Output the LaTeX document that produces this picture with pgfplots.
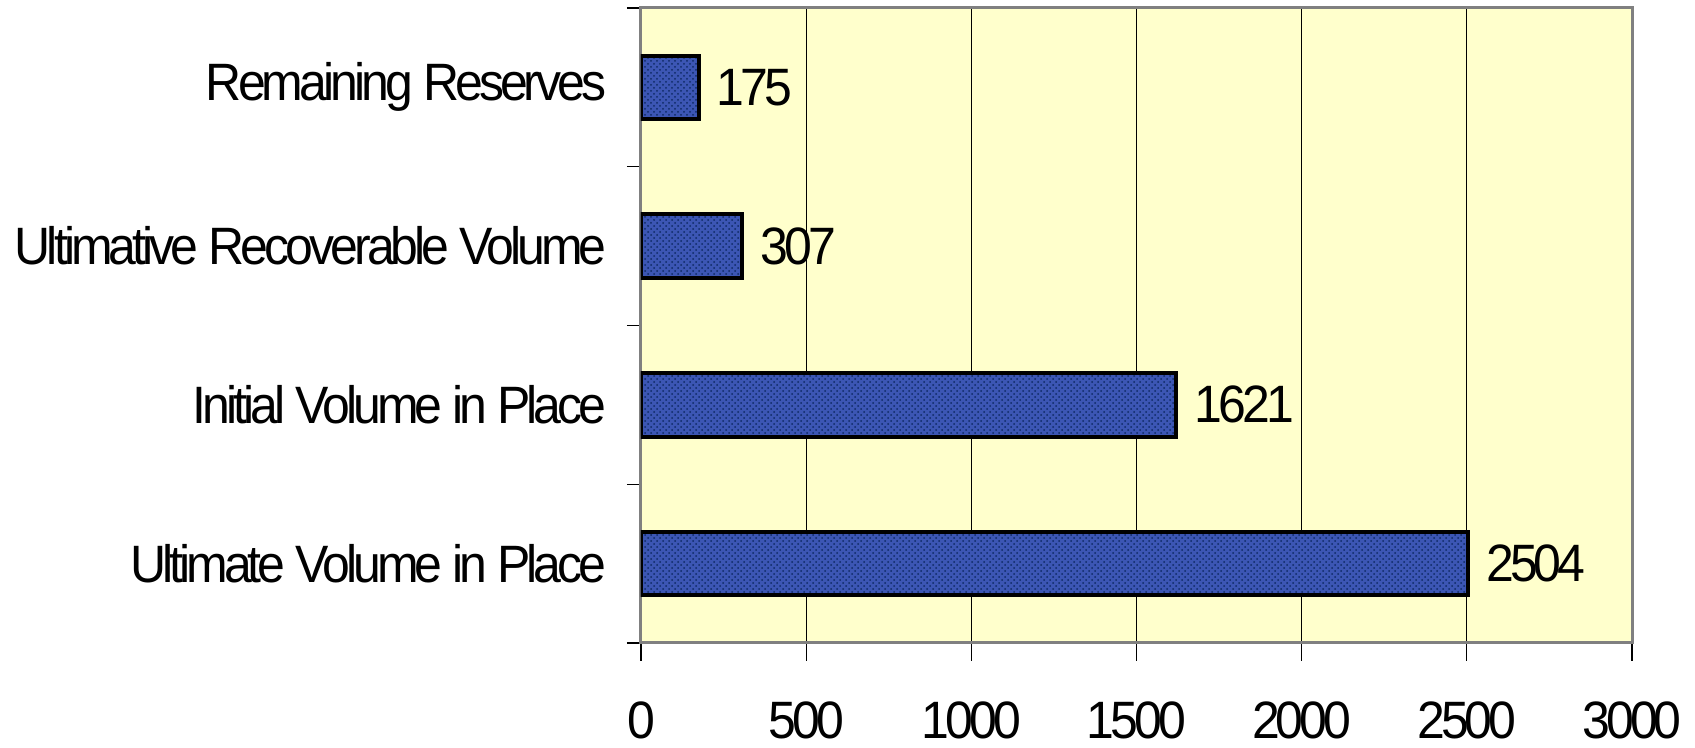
\documentclass[border=0pt]{standalone}
\usepackage{pgfplots}
\pgfplotsset{compat=1.18}
\usepackage{fontspec}
\setmainfont[FakeStretch=0.95, LetterSpace=-7.5]{Liberation Sans}
\usetikzlibrary{patterns}

\definecolor{bgyellow}{HTML}{FFFFCC}
\definecolor{barblue}{HTML}{3C56B4}
\definecolor{bardots}{HTML}{0E2A66}
\definecolor{framegray}{HTML}{808080}

\newcommand{\chartfont}{\fontsize{26.3}{30}\selectfont}

\begin{document}
\begin{tikzpicture}
\begin{axis}[
  scale only axis,
  width=495.5pt, height=317.5pt,
  xbar,
  xmin=0, xmax=3000,
  ymin=-0.5, ymax=3.5,
  xtick={0,500,...,3000},
  scaled x ticks=false,
  ytick={0,1,2,3},
  yticklabels={Ultimate Volume in Place, Initial Volume in Place, Ultimative Recoverable Volume, Remaining Reserves},
  minor ytick={-0.5,0.5,1.5,2.5,3.5},
  major y tick style={draw=none},
  minor y tick style={black, line width=0.6pt},
  major x tick style={black, line width=0.6pt},
  tick align=outside,
  major tick length=9pt,
  minor tick length=7pt,
  xtick pos=bottom, ytick pos=left,
  xmajorgrids,
  major x grid style={black, line width=0.6pt},
  axis line style={framegray, line width=1.5pt},
  axis background/.style={fill=bgyellow},
  /pgf/number format/assume math mode=true,
  /pgf/number format/1000 sep={},
  tick label style={font=\chartfont},
  xticklabel style={anchor=north, inner sep=0pt, yshift=-20pt},
  yticklabel style={anchor=east, inner sep=0pt, xshift=-8pt},
  bar width=0.4,
  nodes near coords,
  every node near coord/.append style={font=\chartfont, anchor=west, inner sep=0pt, xshift=8pt, black},
]
\addplot[
  draw=black, line width=2pt,
  preaction={fill=barblue},
  pattern=crosshatch dots, pattern color=bardots,
] coordinates {(2504,0) (1621,1) (307,2) (175,3)};
\coordinate (o) at (rel axis cs:0,0);
\end{axis}
\path (o) ++(-320.5pt,-52.5pt) rectangle ++(847.5pt,374pt);
\end{tikzpicture}
\end{document}
